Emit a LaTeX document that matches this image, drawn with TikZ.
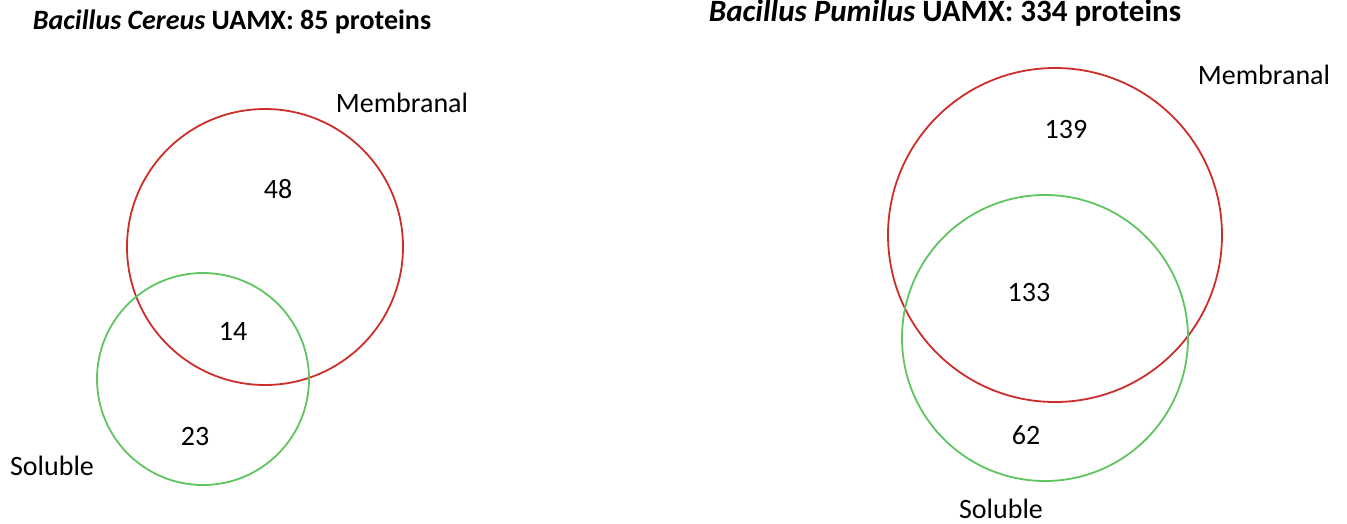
\documentclass[tikz,border=0pt]{standalone}
\usepackage{fontspec}
\setmainfont{Carlito}
\definecolor{cred}{RGB}{204,46,42}
\definecolor{cgreen}{RGB}{96,196,96}
\begin{document}
\begin{tikzpicture}[x=1pt,y=-1pt,
  lbl/.style={font=\fontsize{28}{32}\selectfont, inner sep=0pt},
  ttl/.style={font=\fontsize{28}{32}\selectfont\bfseries, inner sep=0pt},
  ttlb/.style={font=\fontsize{31}{36}\selectfont\bfseries, inner sep=0pt},
  redc/.style={draw=cred, line width=1.8pt},
  greenc/.style={draw=cgreen, line width=1.8pt}]
\useasboundingbox (0,0) rectangle (1347,523);
% left diagram
\node[ttl] (t1) at (232,22) {\textit{Bacillus Cereus} UAMX: 85 proteins};
\draw[redc] (265,247) circle[radius=138];
\draw[greenc] (203,379) circle[radius=106];
\node[lbl] (m1) at (402,103) {Membranal};
\node[lbl] (s1) at (52,466) {Soluble};
\node[lbl] (n48) at (278,189) {48};
\node[lbl] (n14) at (233,331) {14};
\node[lbl] (n23) at (195,437) {23};
% right diagram
\node[ttlb] (t2) at (945,13) {\textit{Bacillus Pumilus} UAMX: 334 proteins};
\draw[redc] (1055,235) circle[radius=167];
\draw[greenc] (1045,338) circle[radius=143];
\node[lbl] (m2) at (1264,75) {Membranal};
\node[lbl] (s2) at (1001,509) {Soluble};
\node[lbl] (n139) at (1066,130) {139};
\node[lbl] (n133) at (1029,293) {133};
\node[lbl] (n62) at (1026,435) {62};
\end{tikzpicture}
\end{document}
